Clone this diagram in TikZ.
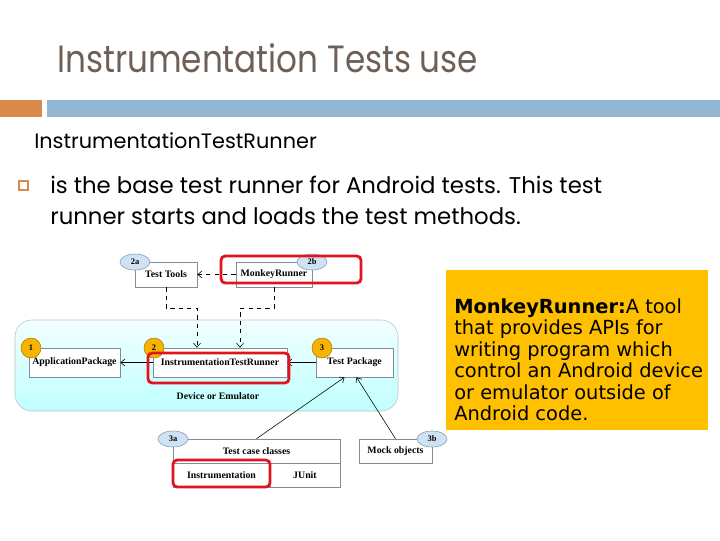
\documentclass[tikz,border=0pt]{standalone}
\usepackage{fontspec}
\newfontfamily\slidefont{Poppins}
\newfontfamily\notefont{DejaVu Sans}
\newfontfamily\diagfont{Liberation Serif}
\usetikzlibrary{arrows.meta,calc,shapes.geometric}
\definecolor{titlegray}{HTML}{6E5F57}
\definecolor{barorange}{HTML}{DC8A4B}
\definecolor{barblue}{HTML}{93B6D3}
\definecolor{notegold}{HTML}{FFC000}
\definecolor{markred}{HTML}{E0141E}
\definecolor{tagblue}{HTML}{CFE2F3}
\definecolor{tagedge}{HTML}{8299AE}
\definecolor{dotgold}{HTML}{F6B400}
\definecolor{boxedge}{HTML}{7F8C99}
\begin{document}
\begin{tikzpicture}[x=0.025cm, y=-0.025cm,
    slide/.style={anchor=base west, inner sep=0pt, font=\slidefont\fontsize{16.2}{19}\selectfont},
    box/.style={draw=boxedge, fill=white, inner sep=1pt, font=\diagfont\fontsize{7}{8}\selectfont\bfseries},
    tag/.style={ellipse, draw=tagedge, fill=tagblue, minimum width=0.75cm, minimum height=0.4cm, inner sep=0pt, font=\diagfont\fontsize{6}{7}\selectfont\bfseries},
    dot/.style={circle, draw=dotgold!70!black, fill=dotgold, minimum size=0.5cm, inner sep=0pt, font=\diagfont\fontsize{6}{7}\selectfont\bfseries},
    hilite/.style={draw=markred, line width=2pt, rounded corners=3pt},
    dashto/.style={dashed, -{Straight Barb[length=3pt,width=5pt]}},
    lineto/.style={-{Straight Barb[length=3pt,width=5pt]}}]
    \useasboundingbox (0,0) rectangle (720,540);

    % slide head
    \node (title) [slide, text=titlegray, font=\slidefont\fontsize{27}{32}\selectfont] at (57,72) {\scalebox{0.86}[1]{Instrumentation Tests use}};
    \fill[barorange] (0,100) rectangle (42,117);
    \fill[barblue] (47,100) rectangle (720,117);
    \node (head) [slide, font=\slidefont\fontsize{14.8}{17}\selectfont] at (34,148) {InstrumentationTestRunner};
    \draw[barorange, line width=0.8pt] (19,181) rectangle (28,190);
    \node (line1) [slide] at (50,193) {is the base test runner for Android tests. This test};
    \node (line2) [slide] at (50,224) {runner starts and loads the test methods.};

    % device or emulator
    \draw[draw=tagedge!60, top color=cyan!5, bottom color=cyan!25, rounded corners=12] (15,320) rectangle (398,411);
    \node (dev) [font=\diagfont\fontsize{7}{8}\selectfont\bfseries] at (218,396) {Device or Emulator};

    % boxes
    \node (testtools) [box, minimum width=1.55cm, minimum height=0.625cm] at (166,274.5) {Test Tools};
    \node (monkey) [box, minimum width=1.9cm, minimum height=0.625cm] at (274,274.5) {MonkeyRunner};
    \node (app) [box, minimum width=2.275cm, minimum height=0.725cm] at (74.5,362.5) {ApplicationPackage};
    \node (itr) [box, minimum width=3.35cm, minimum height=0.725cm] at (220,362.5) {InstrumentationTestRunner};
    \node (tpkg) [box, minimum width=1.925cm, minimum height=0.725cm] at (354.5,362.5) {Test Package};
    \node (tcc) [box, minimum width=4.175cm, minimum height=0.6cm] at (256.5,451) {Test case classes};
    \node (inst) [box, minimum width=2.425cm, minimum height=0.6cm] at (221.5,475) {Instrumentation};
    \node (junit) [box, minimum width=1.75cm, minimum height=0.6cm] at (305,475) {JUnit};
    \node (mock) [box, minimum width=1.825cm, minimum height=0.6cm] at (395.5,451) {Mock objects};

    % connectors
    \draw[dashto] (monkey.west) -- (testtools.east);
    \draw[dashto] (testtools.south) -- ++(0,21) -| ($(itr.north)+(-23,0)$);
    \draw[dashto] (monkey.south) -- ++(0,21) -| ($(itr.north)+(20,0)$);
    \draw[lineto] (itr.west) -- (app.east);
    \draw[lineto] (tpkg.west) -- (itr.east);
    \draw[lineto] (tcc.north) -- ($(tpkg.south)+(-10,0)$);
    \draw[lineto] (mock.north) -- ($(tpkg.south)+(2,0)$);

    % numbers
    \node (t2a) [tag] at (135,262) {2a};
    \node (t2b) [tag] at (312,262) {2b};
    \node (t3a) [tag] at (173,439) {3a};
    \node (t3b) [tag] at (432,439) {3b};
    \node (d1) [dot] at (31,348) {1};
    \node (d2) [dot] at (154,348) {2};
    \node (d3) [dot] at (322,348) {3};

    % red marks
    \draw[hilite] (221,256) rectangle (361,283);
    \draw[hilite] (148,353) rectangle (289,383);
    \draw[hilite] (173,460) rectangle (270,487);

    % note
    \node (note) [fill=notegold, anchor=north west, minimum width=6.55cm, minimum height=4cm] at (446,270) {};
    \node (notetext) [anchor=north west, inner sep=0pt, align=left, font=\notefont\fontsize{13.8}{15.3}\selectfont] at (454,298)
        {\textbf{MonkeyRunner:}A tool\\that provides APIs for\\writing program which\\control an Android device\\or emulator outside of\\Android code.};
\end{tikzpicture}
\end{document}
